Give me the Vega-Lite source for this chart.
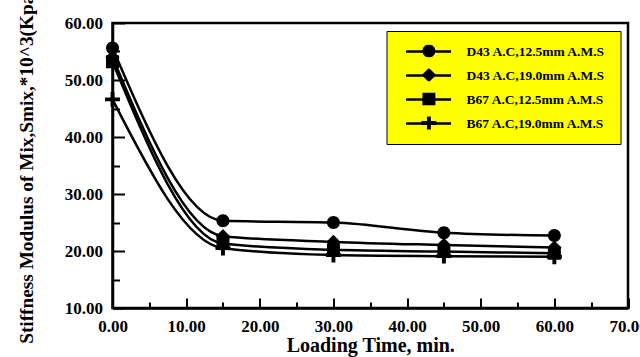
{
  "$schema": "https://vega.github.io/schema/vega-lite/v6.json",
  "width": 515.5,
  "height": 285,
  "autosize": {"type": "none"},
  "padding": {"left": 112.5, "top": 23, "right": 12, "bottom": 49},
  "background": "white",
  "config": {
    "view": {"stroke": "black", "strokeWidth": 2.5},
    "font": "Liberation Serif",
    "axis": {"grid": false, "domainColor": "black", "tickColor": "black", "labelColor": "black", "titleColor": "black"}
  },
  "data": {
    "values": [
      {"series": "D43 A.C,12.5mm A.M.S", "time": 0, "smix": 55.6},
      {"series": "D43 A.C,12.5mm A.M.S", "time": 15, "smix": 25.3},
      {"series": "D43 A.C,12.5mm A.M.S", "time": 30, "smix": 25.0},
      {"series": "D43 A.C,12.5mm A.M.S", "time": 45, "smix": 23.2},
      {"series": "D43 A.C,12.5mm A.M.S", "time": 60, "smix": 22.7},
      {"series": "D43 A.C,19.0mm A.M.S", "time": 0, "smix": 54.0},
      {"series": "D43 A.C,19.0mm A.M.S", "time": 15, "smix": 22.6},
      {"series": "D43 A.C,19.0mm A.M.S", "time": 30, "smix": 21.6},
      {"series": "D43 A.C,19.0mm A.M.S", "time": 45, "smix": 21.05},
      {"series": "D43 A.C,19.0mm A.M.S", "time": 60, "smix": 20.6},
      {"series": "B67 A.C,12.5mm A.M.S", "time": 0, "smix": 53.2},
      {"series": "B67 A.C,12.5mm A.M.S", "time": 15, "smix": 21.3},
      {"series": "B67 A.C,12.5mm A.M.S", "time": 30, "smix": 20.2},
      {"series": "B67 A.C,12.5mm A.M.S", "time": 45, "smix": 19.9},
      {"series": "B67 A.C,12.5mm A.M.S", "time": 60, "smix": 19.6},
      {"series": "B67 A.C,19.0mm A.M.S", "time": 0, "smix": 46.6},
      {"series": "B67 A.C,19.0mm A.M.S", "time": 15, "smix": 20.5},
      {"series": "B67 A.C,19.0mm A.M.S", "time": 30, "smix": 19.3},
      {"series": "B67 A.C,19.0mm A.M.S", "time": 45, "smix": 19.1},
      {"series": "B67 A.C,19.0mm A.M.S", "time": 60, "smix": 19.0}
    ]
  },
  "layer": [
    {
      "mark": {"type": "line", "interpolate": "monotone", "strokeWidth": 2.5},
      "encoding": {
        "stroke": {
          "field": "series", "type": "nominal",
          "scale": {
            "domain": ["D43 A.C,12.5mm A.M.S", "D43 A.C,19.0mm A.M.S", "B67 A.C,12.5mm A.M.S", "B67 A.C,19.0mm A.M.S"],
            "range": ["black", "black", "black", "black"]
          },
          "legend": {
            "orient": "top-right", "offset": 7.5, "title": null,
            "fillColor": "#ffff00", "strokeColor": "black", "padding": 14,
            "symbolType": "stroke", "symbolSize": 2025, "symbolStrokeWidth": 2.5, "symbolStrokeColor": "black",
            "symbolOffset": 4, "labelOffset": 14, "clipHeight": 13, "rowPadding": 10,
            "labelFont": "Liberation Serif", "labelFontWeight": "bold", "labelFontSize": 13.5, "labelColor": "black", "labelLimit": 400,
            "encode": {"legend": {"strokeWidth": {"value": 2.5}}}
          }
        },
        "x": {
          "field": "time", "type": "quantitative",
          "scale": {"domain": [0, 70], "nice": false},
          "axis": {
            "orient": "bottom", "values": [0, 10, 20, 30, 40, 50, 60, 70], "format": ".2f",
            "labelFont": "Liberation Serif", "labelFontWeight": "bold", "labelFontSize": 17,
            "labelPadding": 20, "labelFlush": false, "labelOverlap": false,
            "tickSize": -10, "tickWidth": 2, "domainWidth": 2.5,
            "title": "Loading Time, min.", "titleFont": "Liberation Serif", "titleFontWeight": "bold", "titleFontSize": 20,
            "titleY": 43.5, "titleBaseline": "alphabetic"
          }
        },
        "y": {
          "field": "smix", "type": "quantitative",
          "scale": {"domain": [10, 60], "nice": false, "zero": false},
          "axis": {
            "orient": "left", "values": [10, 20, 30, 40, 50, 60], "format": ".2f",
            "labelFont": "Liberation Serif", "labelFontWeight": "bold", "labelFontSize": 17,
            "labelPadding": 22, "labelFlush": false, "labelOverlap": false,
            "tickSize": -12, "tickWidth": 2, "domainWidth": 2.5,
            "title": "Stiffness Modulus of Mix,Smix,*10^3(Kpa)", "titleFont": "Liberation Serif", "titleFontWeight": "bold", "titleFontSize": 19.3,
            "titleX": -86.5, "titleBaseline": "middle"
          }
        }
      }
    },
    {
      "mark": {"type": "point", "filled": true, "color": "black", "opacity": 1, "size": 169},
      "encoding": {
        "x": {
          "field": "time", "type": "quantitative",
          "axis": {"orient": "bottom", "values": [5, 15, 25, 35, 45, 55, 65], "labels": false, "domain": false, "tickSize": -6, "tickWidth": 2, "title": null}
        },
        "y": {
          "field": "smix", "type": "quantitative",
          "axis": {"orient": "left", "values": [15, 25, 35, 45, 55], "labels": false, "domain": false, "tickSize": -7, "tickWidth": 2, "title": null}
        },
        "shape": {
          "field": "series", "type": "nominal",
          "scale": {
            "domain": ["D43 A.C,12.5mm A.M.S", "D43 A.C,19.0mm A.M.S", "B67 A.C,12.5mm A.M.S", "B67 A.C,19.0mm A.M.S"],
            "range": [
              "M1,0A1,1 0 1,1 -1,0A1,1 0 1,1 1,0Z",
              "M0,-1.1L1.1,0L0,1.1L-1.1,0Z",
              "M-1,-1H1V1H-1Z",
              "M-1.15,-0.3H-0.3V-1.15H0.3V-0.3H1.15V0.3H0.3V1.15H-0.3V0.3H-1.15Z"
            ]
          },
          "legend": {
            "orient": "none", "legendX": 274.5, "legendY": 7.5, "title": null,
            "padding": 14,
            "symbolOffset": 20.4, "labelOffset": 14, "clipHeight": 13, "rowPadding": 10,
            "labelExpr": "''", "labelFontSize": 13.5, "labelOpacity": 0,
            "symbolSize": 169, "symbolFillColor": "black", "symbolOpacity": 1
          }
        }
      }
    }
  ],
  "resolve": {"axis": {"x": "independent", "y": "independent"}}
}
